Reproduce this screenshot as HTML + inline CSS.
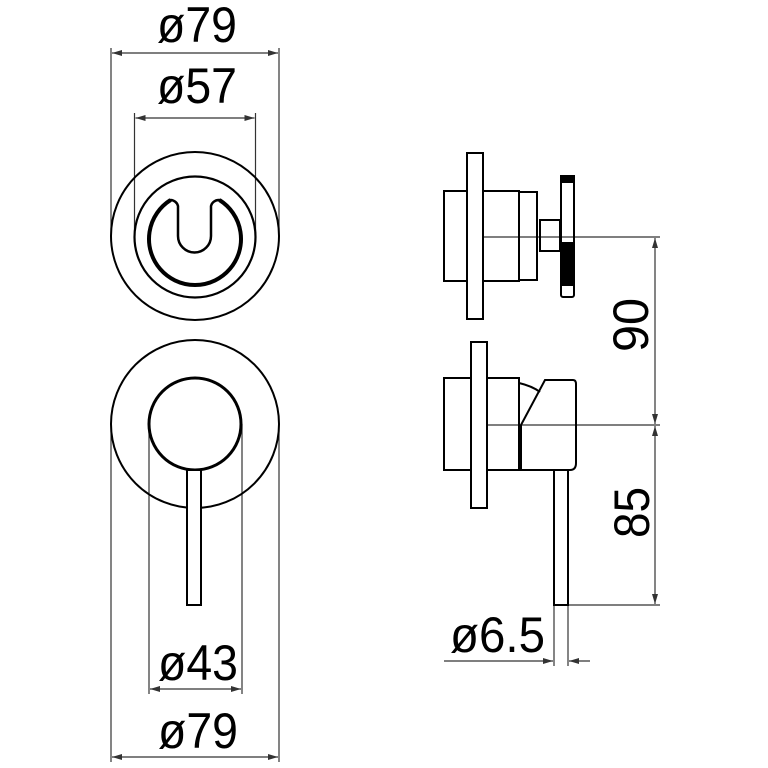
<!DOCTYPE html>
<html><head><meta charset="utf-8"><style>html,body{margin:0;padding:0;background:#fff}svg{display:block}</style></head>
<body>
<svg width="768" height="768" viewBox="0 0 768 768" xmlns="http://www.w3.org/2000/svg">
<defs>
<marker id="a" viewBox="0 0 10 6" refX="10" refY="3" markerWidth="10" markerHeight="6" markerUnits="userSpaceOnUse" orient="auto-start-reverse"><path d="M0,0L10,3L0,6Z" fill="#333"/></marker>
</defs>
<g font-family="Liberation Sans, sans-serif" font-size="50" fill="#000">
<text x="157" y="42" textLength="80" lengthAdjust="spacingAndGlyphs">ø79</text>
<text x="157" y="103" textLength="80" lengthAdjust="spacingAndGlyphs">ø57</text>
<text x="158" y="680" textLength="80" lengthAdjust="spacingAndGlyphs">ø43</text>
<text x="158" y="748" textLength="80" lengthAdjust="spacingAndGlyphs">ø79</text>
<text x="450" y="652" textLength="95" lengthAdjust="spacingAndGlyphs">ø6.5</text>
<text transform="translate(648,352) rotate(-90)" textLength="54" lengthAdjust="spacingAndGlyphs">90</text>
<text transform="translate(649,538) rotate(-90)" textLength="51" lengthAdjust="spacingAndGlyphs">85</text>
</g>
<g stroke="#333" stroke-width="1.2" fill="none">
<line x1="111" y1="48" x2="111" y2="236"/><line x1="279" y1="48" x2="279" y2="236"/>
<line x1="134.5" y1="113" x2="134.5" y2="237"/><line x1="255.5" y1="113" x2="255.5" y2="237"/>
<line x1="112" y1="53" x2="278" y2="53" marker-start="url(#a)" marker-end="url(#a)"/>
<line x1="135.5" y1="118" x2="254.5" y2="118" marker-start="url(#a)" marker-end="url(#a)"/>
<line x1="111" y1="424" x2="111" y2="762"/><line x1="279" y1="424" x2="279" y2="762"/>
<line x1="149" y1="424" x2="149" y2="694"/><line x1="242" y1="424" x2="242" y2="694"/>
<line x1="150" y1="689" x2="241" y2="689" marker-start="url(#a)" marker-end="url(#a)"/>
<line x1="112" y1="757" x2="278" y2="757" marker-start="url(#a)" marker-end="url(#a)"/>
<line x1="484" y1="237" x2="660" y2="237"/>
<line x1="487" y1="425" x2="660" y2="425"/>
<line x1="568" y1="605" x2="660" y2="605"/>
<line x1="655" y1="238" x2="655" y2="424" marker-start="url(#a)" marker-end="url(#a)"/>
<line x1="655" y1="426" x2="655" y2="604" marker-start="url(#a)" marker-end="url(#a)"/>
<line x1="554" y1="605" x2="554" y2="666"/><line x1="568" y1="605" x2="568" y2="666"/>
<line x1="444" y1="661" x2="553" y2="661" marker-end="url(#a)"/>
<line x1="590" y1="661" x2="569" y2="661" marker-end="url(#a)"/>
</g>
<g stroke="#000" fill="none" stroke-width="2">
<circle cx="195" cy="236" r="84"/>
<circle cx="195" cy="237" r="60.5" stroke-width="2.2"/>
<path d="M178,206 L178,236 A16.5,16.5 0 0 0 211,236 L211,206 A8,8 0 0 1 219.4,200 A46,46 0 1 1 170.6,200 A8,8 0 0 1 178,206 Z" stroke-width="2.5"/>
<path d="M219.4,200 A46,46 0 1 1 170.6,200" stroke-width="4"/>
<circle cx="195" cy="424" r="84"/>
<circle cx="195" cy="424" r="46" stroke-width="3"/>
<rect x="187" y="470" width="14" height="135" fill="#fff"/>
<rect x="444" y="191" width="75" height="90"/>
<rect x="519" y="192" width="18" height="88"/>
<rect x="540" y="220" width="20" height="31"/>
<rect x="467" y="153" width="16" height="166" fill="#fff"/>
<rect x="561" y="176" width="13" height="121" rx="2"/>
<rect x="561" y="176" width="13" height="6" fill="#000"/>
<rect x="561" y="243" width="13" height="42" fill="#000"/>
<rect x="444" y="378" width="75" height="92"/>
<path d="M519,383 Q532,386 540,392"/>
<path d="M521,425 L545,380 L573,380 Q576,380 576,384 L576,463 Q576,470 570,470 L521,470 Z"/>
<rect x="471" y="342" width="16" height="166" fill="#fff"/>
<rect x="554" y="470" width="14" height="135"/>
</g>
</svg>
</body></html>
